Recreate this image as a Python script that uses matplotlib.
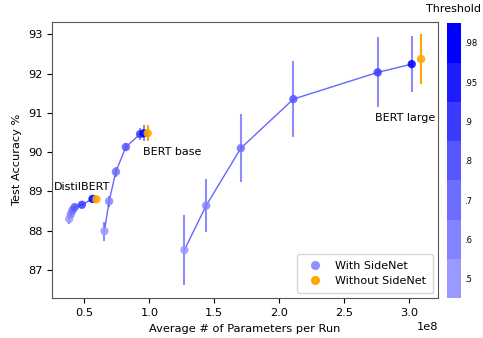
import numpy as np
import matplotlib
matplotlib.use("Agg")
import matplotlib.pyplot as plt
from matplotlib.colors import ListedColormap, BoundaryNorm
from matplotlib.lines import Line2D

# thresholds used for the colour scale
thresholds = [0.5, 0.6, 0.7, 0.8, 0.9, 0.95, 0.98]
threshold_labels = [".5", ".6", ".7", ".8", ".9", ".95", ".98"]

# with SideNet (params in units of 1e8)
distil_params = [0.382, 0.395, 0.408, 0.425, 0.480, 0.562]
distil_acc = [88.30, 88.42, 88.52, 88.60, 88.66, 88.81]
distil_err = [0.13, 0.06, 0.05, 0.05, 0.04, 0.04]
distil_thr = [0.5, 0.6, 0.7, 0.8, 0.9, 0.98]

base_params = [0.654, 0.690, 0.742, 0.819, 0.929, 0.956]
base_acc = [87.99, 88.75, 89.50, 90.13, 90.46, 90.48]
base_err = [0.24, 0.14, 0.13, 0.10, 0.15, 0.20]
base_thr = [0.5, 0.6, 0.7, 0.8, 0.9, 0.98]

large_params = [1.270, 1.438, 1.705, 2.110, 2.760, 3.022]
large_acc = [87.51, 88.64, 90.10, 91.35, 92.03, 92.24]
large_err = [0.90, 0.68, 0.86, 0.96, 0.89, 0.72]
large_thr = [0.5, 0.6, 0.7, 0.8, 0.9, 0.98]

# without SideNet
model_names = ["DistilBERT", "BERT base", "BERT large"]
full_params = [0.592, 0.987, 3.094]
full_acc = [88.80, 90.48, 92.37]
full_err = [0.04, 0.20, 0.64]

label_x = [0.267, 0.95, 2.742]
label_y = [89.11, 90.01, 90.88]

colors = ["#9999ff", "#8383ff", "#6d6dff", "#5757ff", "#3b3bff", "#1c1cff", "#0000ff"]
cmap = ListedColormap(colors)
bounds = np.arange(len(thresholds) + 1)
norm = BoundaryNorm(bounds, cmap.N)

plt.rcParams["font.family"] = "DejaVu Sans"
plt.rcParams["font.size"] = 8.2

fig = plt.figure(figsize=(4.83, 3.38), dpi=100)
ax = fig.add_axes([0.1077, 0.1175, 0.7998, 0.8183])
cax = fig.add_axes([0.9248, 0.1175, 0.0296, 0.8135])

series = [
    (distil_params, distil_acc, distil_err, distil_thr),
    (base_params, base_acc, base_err, base_thr),
    (large_params, large_acc, large_err, large_thr),
]

for p, a, e, t in series:
    p = np.array(p) * 1e8
    ax.errorbar(p, a, yerr=e, fmt="none", ecolor="#0000ff", alpha=0.45,
                elinewidth=1.5, zorder=1)
    ax.plot(p, a, color="#0000ff", alpha=0.6, lw=1, zorder=2)
    idx = [thresholds.index(v) + 0.5 for v in t]
    ax.scatter(p, a, c=idx, cmap=cmap, norm=norm, s=36, alpha=0.85,
               edgecolors="none", zorder=3)

fp = np.array(full_params) * 1e8
ax.errorbar(fp, full_acc, yerr=full_err, fmt="none", ecolor="orange",
            elinewidth=1.5, zorder=4)
ax.scatter(fp, full_acc, color="orange", s=36, alpha=0.9, edgecolors="none",
           zorder=5)

for name, x, y in zip(model_names, label_x, label_y):
    ax.text(x * 1e8, y, name, fontsize=8, va="center", ha="left")

ax.set_xlim(0.25e8, 3.227e8)
ax.set_ylim(86.28, 93.32)
ax.set_xticks([0.5e8, 1e8, 1.5e8, 2e8, 2.5e8, 3e8])
ax.set_xlabel("Average # of Parameters per Run")
ax.set_ylabel("Test Accuracy %")
for s in ax.spines.values():
    s.set_color("#555555")

handles = [
    Line2D([], [], marker="o", ls="none", color="#9090ff", markersize=5.5),
    Line2D([], [], marker="o", ls="none", color="orange", markersize=5.5),
]
ax.legend(handles, ["With SideNet", "Without SideNet"], loc="lower right",
          fontsize=8, borderpad=0.6, labelspacing=0.5)

sm = plt.cm.ScalarMappable(cmap=cmap, norm=norm)
cb = fig.colorbar(sm, cax=cax, ticks=bounds[:-1] + 0.5)
cb.minorticks_off()
cb.ax.set_yticklabels(threshold_labels, fontsize=6)
cb.ax.tick_params(which="both", length=0, pad=2)
cb.outline.set_visible(False)
cax.set_title("Threshold", fontsize=8, pad=8)

fig.savefig("out.png", dpi=100)
